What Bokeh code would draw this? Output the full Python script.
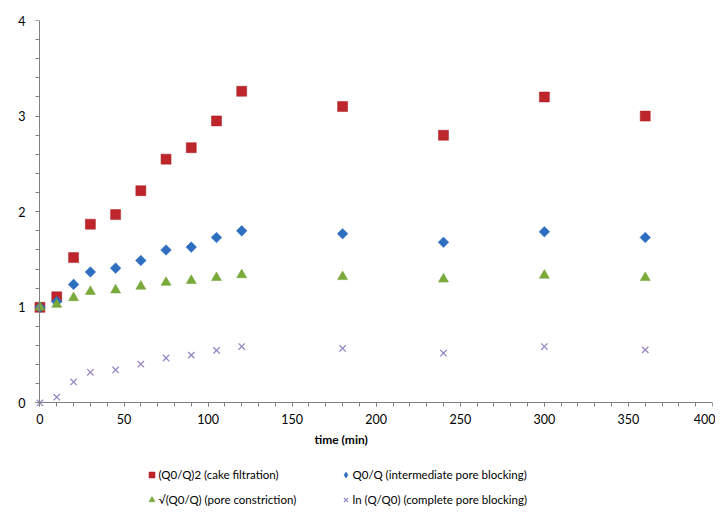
import math
from bokeh.plotting import figure
from bokeh.layouts import column
from bokeh.models import (Range1d, SingleIntervalTicker, Legend, LegendItem,
                          LinearAxis, Title, ColumnDataSource)
from bokeh.embed import file_html
from bokeh.resources import INLINE

# ---- data ----
time_min = [0, 10, 20, 30, 45, 60, 75, 90, 105, 120, 180, 240, 300, 360]
cake = [1.00, 1.11, 1.52, 1.87, 1.97, 2.22, 2.55, 2.67, 2.95, 3.26, 3.10, 2.80, 3.20, 3.00]
intermediate = [1.00, 1.06, 1.24, 1.37, 1.41, 1.49, 1.60, 1.63, 1.73, 1.80, 1.77, 1.68, 1.79, 1.73]
constriction = [1.00, 1.03, 1.10, 1.165, 1.18, 1.22, 1.26, 1.28, 1.31, 1.34, 1.32, 1.295, 1.335, 1.31]
complete = [0.00, 0.06, 0.22, 0.32, 0.345, 0.405, 0.47, 0.50, 0.55, 0.59, 0.57, 0.52, 0.59, 0.555]

labels = ["(Q0/Q)2 (cake filtration)", "Q0/Q (intermediate pore blocking)",
          "\u221a(Q0/Q) (pore constriction)", "ln (Q/Q0) (complete pore blocking)"]
x_title = "time (min)"

FONT = "Lato"
AXIS_COLOR = "#808080"

STYLES = [
    dict(marker="square", size=10, fill_color="#BE262B", line_color="#A41E22", line_width=0.5),
    dict(marker="square", size=7.5, angle=math.pi / 4, fill_color="#2D6EC0",
         line_color="#2D6EC0", line_width=0.5),
    dict(marker="triangle", size=10, fill_color="#7AAA3A", line_color="#6E9E30", line_width=0.5),
    dict(marker="x", size=9, line_color="#9787C6", line_width=1.3),
]
COLS = ["cake", "inter", "constr", "comp"]

src = ColumnDataSource(dict(t=time_min, cake=cake, inter=intermediate,
                            constr=constriction, comp=complete))

p = figure(frame_width=686, frame_height=392,
           min_border_left=26, min_border_top=20, min_border_right=3, min_border_bottom=47,
           x_range=Range1d(-8, 400), y_range=Range1d(-0.1, 4),
           output_backend="svg", toolbar_location=None,
           background_fill_color="white", border_fill_color="white")
p.outline_line_color = None
p.grid.visible = False

for col, st in zip(COLS, STYLES):
    p.scatter("t", col, source=src, **st)

# side axes: tick labels only
for ax, interval in ((p.xaxis[0], 50), (p.yaxis[0], 1)):
    ax.ticker = SingleIntervalTicker(interval=interval, num_minor_ticks=5)
    ax.axis_line_color = None
    ax.major_tick_line_color = None
    ax.minor_tick_line_color = None
    ax.major_tick_in = 0
    ax.major_tick_out = 0
    ax.minor_tick_in = 0
    ax.minor_tick_out = 0
    ax.major_label_text_font = FONT
    ax.major_label_text_font_size = "12.5px"
    ax.major_label_text_color = "#000000"
p.xaxis[0].major_label_standoff = 1
p.yaxis[0].major_label_standoff = 1


def line_axis(interval, bnds, t_in, t_out):
    return LinearAxis(fixed_location=0, bounds=bnds,
                      ticker=SingleIntervalTicker(interval=interval, num_minor_ticks=5),
                      axis_line_color=AXIS_COLOR, major_tick_line_color=AXIS_COLOR,
                      minor_tick_line_color=AXIS_COLOR, major_tick_in=t_in, major_tick_out=t_out,
                      minor_tick_in=t_in, minor_tick_out=t_out, major_label_standoff=0,
                      major_label_text_color=None, major_label_text_font_size="1px")

# axis lines + ticks crossing at the data origin
p.add_layout(line_axis(1, (0, 4), 0, 4), "left")
p.add_layout(line_axis(50, (0, 400), 4, 0), "above")

p.add_layout(Title(text=x_title, align="left", offset=288, standoff=11, vertical_align="top",
                   text_font=FONT, text_font_size="12px", text_font_style="bold",
                   text_color="#000000"), "below")

# legend panel underneath
lg = figure(width=715, height=48, min_border=0, x_axis_type=None, y_axis_type=None,
            x_range=Range1d(1000, 1001), y_range=Range1d(1000, 1001),
            output_backend="svg", toolbar_location=None,
            background_fill_color="white", border_fill_color="white")
lg.outline_line_color = None
lg.grid.visible = False
LEG_STYLES = [dict(STYLES[0]), dict(marker="diamond", size=8, fill_color="#2D6EC0",
                                    line_color="#2D6EC0", line_width=0.5),
              dict(STYLES[2]), dict(STYLES[3])]
rs = [lg.scatter("t", col, source=src, **st) for col, st in zip(COLS, LEG_STYLES)]

# column-major fill: first column holds items 0 and 2, second column 1 and 3
order = [0, 2, 1, 3]
legend = Legend(items=[LegendItem(label=labels[i], renderers=[rs[i]]) for i in order],
                ncols=2, location=(117.5, 0), padding=0, margin=0, spacing=9,
                glyph_width=15, glyph_height=15, label_standoff=0,
                label_width=170, label_height=16,
                label_text_font=FONT, label_text_font_size="11.5px",
                label_text_color="#000000",
                border_line_color=None, background_fill_alpha=0)
lg.add_layout(legend, "center")

open("out.html", "w").write(file_html(column(p, lg, spacing=0), INLINE))
